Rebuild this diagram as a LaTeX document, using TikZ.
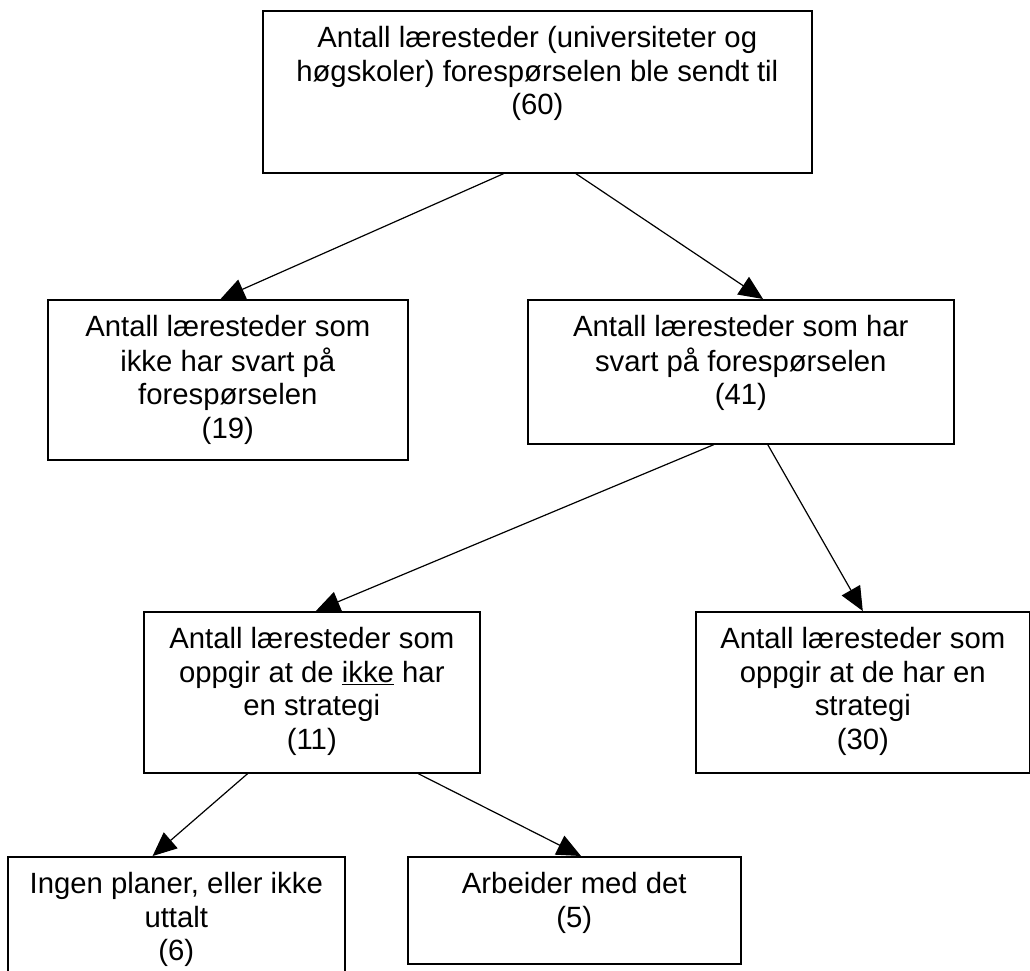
\documentclass[tikz,border=0pt]{standalone}
\usepackage{fontspec}
\setmainfont{Liberation Sans}
\usetikzlibrary{arrows.meta,calc}
\newcommand{\bxtext}[3]{\parbox[t][#2][t]{#1}{\vspace*{13.5pt}\centering\fontsize{29.3pt}{33.5pt}\selectfont\strut #3\par}}
\tikzset{
  boxnode/.style={draw=black, line width=1.6pt, inner sep=0pt, anchor=north west, fill=white},
  arr/.style={draw=black, line width=1.2pt, -{Triangle[length=24pt,width=21pt]}}
}
\begin{document}
\begin{tikzpicture}[x=1pt,y=-1pt]
\useasboundingbox (0,0) rectangle (1030,970);
\clip (0,0) rectangle (1030,970);
\node[boxnode] (top) at (262,10) {\bxtext{549pt}{162pt}{Antall læresteder (universiteter og\\høgskoler) forespørselen ble sendt til\\(60)}};
\node[boxnode] (b19) at (47,299) {\bxtext{360pt}{160pt}{Antall læresteder som\\ikke har svart på\\forespørselen\\(19)}};
\node[boxnode] (b41) at (527,299) {\bxtext{426pt}{144pt}{Antall læresteder som har\\svart på forespørselen\\(41)}};
\node[boxnode] (b11) at (143,611) {\bxtext{336pt}{161pt}{Antall læresteder som\\oppgir at de \underline{ikke} har\\en strategi\\(11)}};
\node[boxnode] (b30) at (695,611) {\bxtext{334pt}{161pt}{Antall læresteder som\\oppgir at de har en\\strategi\\(30)}};
\node[boxnode] (b6) at (7,856) {\bxtext{337pt}{140pt}{Ingen planer, eller ikke\\uttalt\\(6)}};
\node[boxnode] (b5) at (407,856) {\bxtext{333pt}{107pt}{Arbeider med det\\(5)}};
\draw[arr] ($(top.south west)!0.439!(top.south east)$) -- ($(b19.north west)!0.48!(b19.north east)$);
\draw[arr] ($(top.south west)!0.570!(top.south east)$) -- ($(b41.north west)!0.552!(b41.north east)$);
\draw[arr] ($(b41.south west)!0.437!(b41.south east)$) -- ($(b11.north west)!0.512!(b11.north east)$);
\draw[arr] ($(b41.south west)!0.563!(b41.south east)$) -- ($(b30.north west)!0.50!(b30.north east)$);
\draw[arr] ($(b11.south west)!0.31!(b11.south east)$) -- ($(b6.north west)!0.43!(b6.north east)$);
\draw[arr] ($(b11.south west)!0.815!(b11.south east)$) -- ($(b5.north west)!0.52!(b5.north east)$);
\end{tikzpicture}
\end{document}
